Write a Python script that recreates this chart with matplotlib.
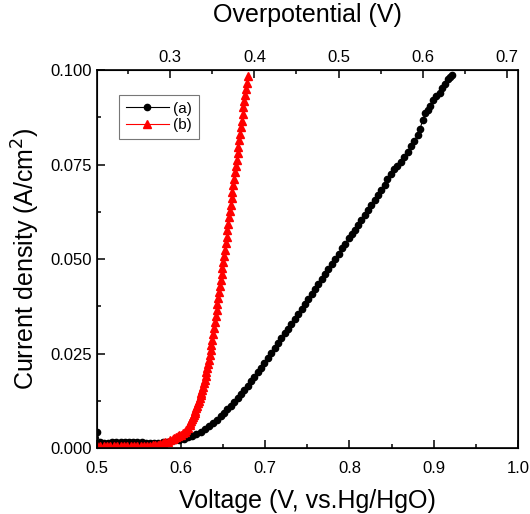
import numpy as np
import matplotlib
matplotlib.use("Agg")
import matplotlib.pyplot as plt
from matplotlib.ticker import MultipleLocator, FormatStrFormatter

plt.rcParams['font.family'] = ['Liberation Sans', 'DejaVu Sans']

# sample (a): voltage (V vs Hg/HgO) and current density (A/cm2)
volt_a = [0.500, 0.503, 0.508, 0.513, 0.518, 0.523, 0.528, 0.533, 0.538, 0.543,
          0.548, 0.553, 0.558, 0.563, 0.568, 0.573, 0.578, 0.583, 0.588, 0.593,
          0.598, 0.603, 0.608, 0.613, 0.618, 0.623, 0.628, 0.633, 0.638, 0.643,
          0.647, 0.651, 0.655, 0.659, 0.663, 0.667, 0.671, 0.675, 0.679, 0.683,
          0.687, 0.691, 0.695, 0.699, 0.703, 0.707, 0.711, 0.715, 0.719, 0.723,
          0.727, 0.731, 0.735, 0.739, 0.743, 0.747, 0.751, 0.755, 0.759, 0.763,
          0.767, 0.771, 0.775, 0.779, 0.783, 0.787, 0.791, 0.795, 0.799, 0.803,
          0.806, 0.810, 0.814, 0.818, 0.822, 0.826, 0.830, 0.834, 0.838, 0.842,
          0.845, 0.849, 0.853, 0.857, 0.861, 0.865, 0.869, 0.873, 0.877, 0.881,
          0.884, 0.887, 0.890, 0.893, 0.896, 0.899, 0.903, 0.907, 0.910, 0.913,
          0.917, 0.920, 0.922]
curr_a = [0.0042, 0.0016, 0.0014, 0.0014, 0.0015, 0.0015, 0.0015, 0.0016, 0.0015, 0.0016,
          0.0015, 0.0015, 0.0014, 0.0014, 0.0014, 0.0014, 0.0015, 0.0016, 0.0018, 0.0020,
          0.0022, 0.0025, 0.0028, 0.0032, 0.0037, 0.0043, 0.0050, 0.0058, 0.0066, 0.0075,
          0.0084, 0.0093, 0.0102, 0.0111, 0.0121, 0.0131, 0.0142, 0.0153, 0.0165, 0.0176,
          0.0188, 0.0200, 0.0212, 0.0225, 0.0238, 0.0251, 0.0264, 0.0277, 0.0290, 0.0303,
          0.0316, 0.0329, 0.0342, 0.0355, 0.0368, 0.0381, 0.0394, 0.0407, 0.0420, 0.0433,
          0.0447, 0.0460, 0.0474, 0.0487, 0.0501, 0.0514, 0.0528, 0.0541, 0.0555, 0.0567,
          0.0578, 0.0590, 0.0603, 0.0616, 0.0630, 0.0643, 0.0656, 0.0669, 0.0683, 0.0697,
          0.0712, 0.0725, 0.0737, 0.0746, 0.0757, 0.0770, 0.0784, 0.0798, 0.0812, 0.0828,
          0.0845, 0.0868, 0.0885, 0.0895, 0.0905, 0.0920, 0.0930, 0.0940, 0.0952, 0.0963,
          0.0975, 0.0982, 0.0987]

# sample (b)
volt_b = [0.500, 0.504, 0.508, 0.512, 0.516, 0.520, 0.524, 0.528, 0.532, 0.536,
          0.540, 0.544, 0.548, 0.552, 0.556, 0.560, 0.563, 0.566, 0.569, 0.572,
          0.575, 0.578, 0.581, 0.584, 0.587, 0.590, 0.592, 0.594, 0.596, 0.598,
          0.600, 0.602, 0.604, 0.606, 0.608, 0.610, 0.611, 0.612, 0.613, 0.614,
          0.615, 0.616, 0.617, 0.618, 0.619, 0.620, 0.621, 0.622, 0.623, 0.624,
          0.625, 0.626, 0.627, 0.628, 0.629, 0.630, 0.631, 0.632, 0.633, 0.634,
          0.635, 0.636, 0.637, 0.638, 0.639, 0.640, 0.641, 0.642, 0.643, 0.644,
          0.645, 0.646, 0.647, 0.648, 0.649, 0.650, 0.651, 0.652, 0.653, 0.654,
          0.655, 0.656, 0.657, 0.658, 0.659, 0.660, 0.661, 0.662, 0.663, 0.664,
          0.665, 0.666, 0.667, 0.668, 0.669, 0.670, 0.671, 0.672, 0.673, 0.674,
          0.675, 0.676, 0.677, 0.678, 0.679]
curr_b = [0.0005, 0.0004, 0.0004, 0.0004, 0.0004, 0.0004, 0.0004, 0.0004, 0.0004, 0.0004,
          0.0005, 0.0005, 0.0005, 0.0005, 0.0005, 0.0006, 0.0006, 0.0007, 0.0008, 0.0009,
          0.0011, 0.0013, 0.0015, 0.0017, 0.0020, 0.0023, 0.0026, 0.0029, 0.0032, 0.0035,
          0.0035, 0.0039, 0.0043, 0.0048, 0.0054, 0.0062, 0.0066, 0.0071, 0.0076, 0.0082,
          0.0087, 0.0093, 0.0099, 0.0105, 0.0111, 0.0118, 0.0125, 0.0132, 0.0139, 0.0146,
          0.0154, 0.0162, 0.0171, 0.0180, 0.0190, 0.0200, 0.0211, 0.0222, 0.0234, 0.0246,
          0.0259, 0.0273, 0.0287, 0.0302, 0.0317, 0.0333, 0.0349, 0.0365, 0.0381, 0.0397,
          0.0413, 0.0429, 0.0445, 0.0461, 0.0477, 0.0493, 0.0509, 0.0525, 0.0542, 0.0559,
          0.0576, 0.0593, 0.0610, 0.0627, 0.0644, 0.0661, 0.0678, 0.0695, 0.0712, 0.0729,
          0.0746, 0.0763, 0.0780, 0.0797, 0.0814, 0.0831, 0.0848, 0.0866, 0.0884, 0.0901,
          0.0917, 0.0933, 0.0950, 0.0966, 0.0985]

# offset between voltage scale and overpotential scale
eta_offset = 0.287

fig = plt.figure(figsize=(5.3, 5.14), dpi=100)
ax = fig.add_axes([0.183, 0.1284, 0.794, 0.7354])

ax.plot(volt_a, curr_a, '-o', color='black', lw=0.8, ms=4.5, label='(a)')
ax.plot(volt_b, curr_b, '-^', color='red', lw=0.8, ms=6, label='(b)')

ax.set_xlim(0.5, 1.0)
ax.set_ylim(0, 0.1)
ax.xaxis.set_major_locator(MultipleLocator(0.1))
ax.xaxis.set_minor_locator(MultipleLocator(0.05))
ax.yaxis.set_major_locator(MultipleLocator(0.025))
ax.yaxis.set_minor_locator(MultipleLocator(0.0125))
ax.xaxis.set_major_formatter(FormatStrFormatter('%.1f'))
ax.yaxis.set_major_formatter(FormatStrFormatter('%.3f'))
ax.tick_params(which='both', direction='in', labelsize=12, width=1.1)
ax.tick_params(which='major', length=6)
ax.tick_params(which='minor', length=3)
ax.tick_params(axis='x', pad=9)
for sp in ax.spines.values():
    sp.set_linewidth(1.2)

ax.set_xlabel('Voltage (V, vs.Hg/HgO)', fontsize=18, labelpad=10)
ax.set_ylabel('Current density (A/cm$^2$)', fontsize=18, labelpad=6)

# top axis: overpotential
ax2 = ax.twiny()
ax2.set_xlim(0.5 - eta_offset, 1.0 - eta_offset)
ax2.xaxis.set_major_locator(MultipleLocator(0.1))
ax2.xaxis.set_minor_locator(MultipleLocator(0.05))
ax2.xaxis.set_major_formatter(FormatStrFormatter('%.1f'))
ax2.tick_params(which='both', direction='in', labelsize=12, width=1.1)
ax2.tick_params(which='major', length=6)
ax2.tick_params(which='minor', length=3)
ax2.set_xlabel('Overpotential (V)', fontsize=18, labelpad=20)

leg = ax.legend(loc='upper left', bbox_to_anchor=(0.052, 0.934), borderaxespad=0,
                fontsize=11, frameon=True, fancybox=False, handlelength=2.8,
                handletextpad=0.3, borderpad=0.45, labelspacing=0.15)
leg.get_frame().set_edgecolor('#555555')
leg.get_frame().set_linewidth(0.8)

fig.savefig('out.png', dpi=100)
